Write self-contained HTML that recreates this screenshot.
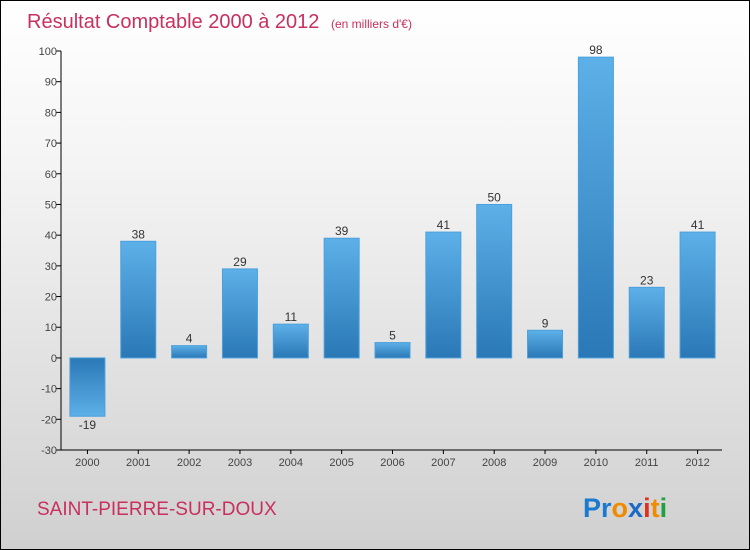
<!DOCTYPE html>
<html><head><meta charset="utf-8"><style>
html,body{margin:0;padding:0}
body{width:750px;height:550px;overflow:hidden}
#wrap{position:relative;width:748px;height:548px;border:1px solid #000;background:linear-gradient(#ffffff,#f4f4f4 30%,#d0d0d0)}
</style></head><body>
<div id="wrap">
<svg id="chart" width="748" height="548" xmlns="http://www.w3.org/2000/svg" style="position:absolute;left:0;top:0">
<defs>
<linearGradient id="gp" x1="0" y1="0" x2="0" y2="1"><stop offset="0" stop-color="#5db0e8"/><stop offset="1" stop-color="#2a78b6"/></linearGradient>
<linearGradient id="gn" x1="0" y1="0" x2="0" y2="1"><stop offset="0" stop-color="#2a78b6"/><stop offset="1" stop-color="#5db0e8"/></linearGradient>
</defs>
<text x="26" y="27" font-family="Liberation Sans, sans-serif" font-size="20" fill="#c8305e">Résultat Comptable 2000 à 2012 <tspan font-size="12" dx="6">(en milliers d'€)</tspan></text>
<text x="36" y="514" font-family="Liberation Sans, sans-serif" font-size="19" fill="#c8305e">SAINT-PIERRE-SUR-DOUX</text>
<g font-family="Liberation Sans, sans-serif" font-size="27" font-weight="bold">
<text x="582" y="516"><tspan fill="#1a7ad0">Pr</tspan><tspan fill="#f08a00">o</tspan><tspan fill="#1a6ac8">x</tspan><tspan fill="#e03020">i</tspan><tspan fill="#f08a00">t</tspan><tspan fill="#20a040">i</tspan></text>
</g>
<g id="axes"></g>
<g id="bars"></g>
</svg>
</div>
<script>
const categories=["2000","2001","2002","2003","2004","2005","2006","2007","2008","2009","2010","2011","2012"];
const values=[-19,38,4,29,11,39,5,41,50,9,98,23,41];
const yTicks=[-30,-20,-10,0,10,20,30,40,50,60,70,80,90,100];
{
const yMin=-30,yMax=100,pTop=50,pBot=449,pLeft=60,pRight=721;
const ns="http://www.w3.org/2000/svg";
const yS=v=>pBot-(v-yMin)*(pBot-pTop)/(yMax-yMin);
const step=(pRight-pLeft)/categories.length;
const xc=i=>pLeft+step*(i+0.5)+1;
const mk=(tag,attrs,parent)=>{const e=document.createElementNS(ns,tag);for(const k in attrs)e.setAttribute(k,attrs[k]);parent.appendChild(e);return e;};
const ax=document.getElementById('axes'),bg=document.getElementById('bars');
const yl=mk('line',{x1:pLeft,y1:pTop,x2:pLeft,y2:pBot,stroke:'#000'},ax);


const xl=mk('line',{x1:pLeft,y1:pBot,x2:pRight,y2:pBot,stroke:'#000'},ax);


yTicks.forEach(t=>{
 mk('line',{x1:pLeft-5,y1:yS(t),x2:pLeft,y2:yS(t),stroke:'#000'},ax);
 const tx=mk('text',{x:pLeft-4,y:yS(t)+4,'text-anchor':'end','font-family':'Liberation Sans, sans-serif','font-size':'11',fill:'#444'},ax);
 tx.textContent=t;
 
 
});
categories.forEach((c,i)=>{
 mk('line',{x1:xc(i),y1:pBot,x2:xc(i),y2:pBot+4,stroke:'#000'},ax);
 const tx=mk('text',{x:xc(i),y:pBot+16,'text-anchor':'middle','font-family':'Liberation Sans, sans-serif','font-size':'11',fill:'#444'},ax);
 tx.textContent=c;
 
 
 const v=values[i],w=35,y0=yS(0),yv=yS(v);
 const r=mk('rect',{x:xc(i)-w/2,y:Math.min(y0,yv),width:w,height:Math.abs(y0-yv),fill:v>=0?'url(#gp)':'url(#gn)',stroke:'#4aa0dc','stroke-width':'1'},bg);
 
 
 const lb=mk('text',{x:xc(i),y:v>=0?yv-3:yv+13,'text-anchor':'middle','font-family':'Liberation Sans, sans-serif','font-size':'12',fill:'#333'},bg);
 lb.textContent=v;
 
 
});
}
</script>
</body></html>
